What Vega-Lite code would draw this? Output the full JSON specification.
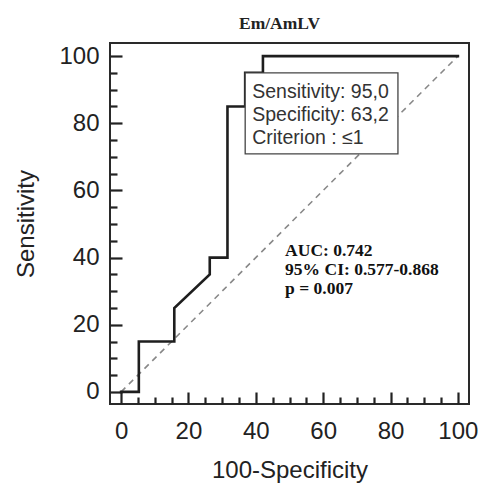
{
  "$schema": "https://vega.github.io/schema/vega-lite/v6.json",
  "width": 359,
  "height": 361,
  "autosize": {"type": "none"},
  "padding": {"left": 110, "top": 43, "right": 14, "bottom": 79},
  "background": "white",
  "view": {"stroke": "#2a2a2a", "strokeWidth": 2},
  "title": {
    "text": "Em/AmLV",
    "font": "Liberation Serif",
    "fontWeight": "bold",
    "fontSize": 17.5,
    "color": "#222",
    "anchor": "middle",
    "frame": "group",
    "baseline": "alphabetic",
    "offset": 16,
    "dx": -10,
    "dy": 19
  },
  "config": {
    "axis": {
      "grid": false,
      "domain": false,
      "ticks": true,
      "labelFont": "Liberation Sans",
      "labelFontSize": 24,
      "labelColor": "#222",
      "titleFont": "Liberation Sans",
      "titleFontSize": 24,
      "titleFontWeight": "normal",
      "titleColor": "#222",
      "tickColor": "#222",
      "tickWidth": 2.2
    }
  },
  "datasets": {
    "roc": [
      {"i": 0, "fpr": 0, "sens": 0},
      {"i": 1, "fpr": 5.26, "sens": 0},
      {"i": 2, "fpr": 5.26, "sens": 15},
      {"i": 3, "fpr": 15.79, "sens": 15},
      {"i": 4, "fpr": 15.79, "sens": 25},
      {"i": 5, "fpr": 26.32, "sens": 35},
      {"i": 6, "fpr": 26.32, "sens": 40},
      {"i": 7, "fpr": 31.58, "sens": 40},
      {"i": 8, "fpr": 31.58, "sens": 85},
      {"i": 9, "fpr": 36.84, "sens": 85},
      {"i": 10, "fpr": 36.84, "sens": 95},
      {"i": 11, "fpr": 42.11, "sens": 95},
      {"i": 12, "fpr": 42.11, "sens": 100},
      {"i": 13, "fpr": 100, "sens": 100}
    ],
    "diag": [
      {"fpr": 0, "sens": 0},
      {"fpr": 100, "sens": 100}
    ],
    "box": [
      {"x": 36.84, "x2": 82.2, "y": 95, "y2": 70.9, "text": ["Sensitivity: 95,0", "Specificity: 63,2", "Criterion : \u22641"]}
    ],
    "stats": [
      {"x": 48.7, "y": 40.4, "text": ["AUC: 0.742", "95% CI: 0.577-0.868", "p = 0.007"]}
    ]
  },
  "resolve": {"axis": {"x": "independent", "y": "independent"}},
  "layer": [
    {
      "data": {"name": "diag"},
      "mark": {"type": "line", "color": "#888", "strokeWidth": 1.6, "strokeDash": [6, 5]},
      "encoding": {
        "x": {
          "field": "fpr", "type": "quantitative",
          "scale": {"domain": [-3.3, 103.3], "nice": false, "zero": false},
          "axis": {
            "orient": "bottom",
            "title": "100-Specificity",
            "values": [0, 20, 40, 60, 80, 100],
            "tickSize": -12,
            "labelBaseline": "alphabetic",
            "labelPadding": 46,
            "titleBaseline": "alphabetic",
            "titleY": 73
          }
        },
        "y": {
          "field": "sens", "type": "quantitative",
          "scale": {"domain": [-3.6, 103.9], "nice": false, "zero": false},
          "axis": {
            "orient": "left",
            "title": "Sensitivity",
            "values": [0, 20, 40, 60, 80, 100],
            "tickSize": -12,
            "labelPadding": 23,
            "titleBaseline": "alphabetic",
            "titleX": -77
          }
        }
      }
    },
    {
      "data": {"name": "roc"},
      "mark": {"type": "line", "color": "#1e1e1e", "strokeWidth": 2.6, "strokeJoin": "miter", "strokeCap": "square"},
      "encoding": {
        "x": {
          "field": "fpr", "type": "quantitative",
          "axis": {
            "orient": "bottom",
            "title": null,
            "labels": false,
            "values": [5, 10, 15, 25, 30, 35, 45, 50, 55, 65, 70, 75, 85, 90, 95],
            "tickSize": -7
          }
        },
        "y": {
          "field": "sens", "type": "quantitative",
          "axis": {
            "orient": "left",
            "title": null,
            "labels": false,
            "values": [5, 10, 15, 25, 30, 35, 45, 50, 55, 65, 70, 75, 85, 90, 95],
            "tickSize": -7
          }
        },
        "order": {"field": "i", "type": "quantitative"}
      }
    },
    {
      "data": {"name": "box"},
      "mark": {"type": "rect", "fill": "white", "stroke": "#444", "strokeWidth": 1.3},
      "encoding": {
        "x": {"field": "x", "type": "quantitative", "axis": null},
        "x2": {"field": "x2"},
        "y": {"field": "y", "type": "quantitative", "axis": null},
        "y2": {"field": "y2"}
      }
    },
    {
      "data": {"name": "box"},
      "mark": {"type": "text", "font": "Liberation Sans", "fontSize": 19.5, "color": "#333", "align": "left", "baseline": "alphabetic", "dx": 7, "dy": 25.6, "lineHeight": 23},
      "encoding": {
        "x": {"field": "x", "type": "quantitative", "axis": null},
        "y": {"field": "y", "type": "quantitative", "axis": null},
        "text": {"field": "text"}
      }
    },
    {
      "data": {"name": "stats"},
      "mark": {"type": "text", "font": "Liberation Serif", "fontWeight": "bold", "fontSize": 17.5, "color": "#111", "align": "left", "baseline": "alphabetic", "lineHeight": 19},
      "encoding": {
        "x": {"field": "x", "type": "quantitative", "axis": null},
        "y": {"field": "y", "type": "quantitative", "axis": null},
        "text": {"field": "text"}
      }
    }
  ]
}
